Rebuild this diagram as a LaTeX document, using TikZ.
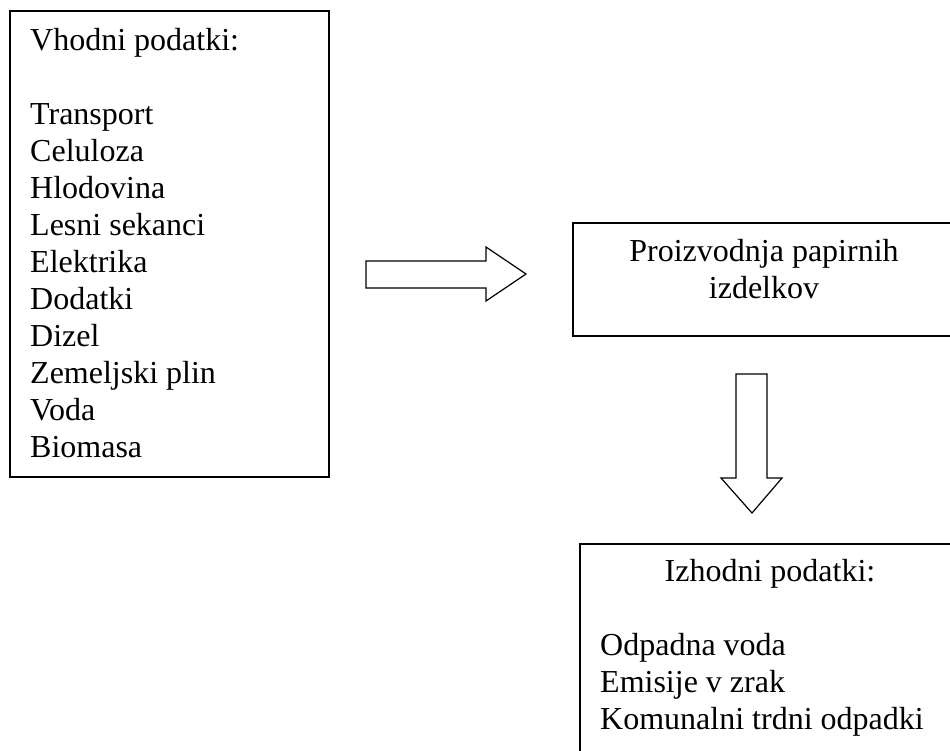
\documentclass[tikz,border=0pt]{standalone}
\usepackage{fontspec}
\setmainfont{Liberation Serif}

\tikzset{
    box/.style={draw, line width=1.6pt, inner sep=0pt, anchor=north west},
    txt/.style={inner sep=0pt, font=\fontsize{32}{37}\selectfont},
    blockarrow/.style={draw, line width=1.2pt, line join=miter}
}

\begin{document}
\begin{tikzpicture}[x=1pt, y=-1pt]
    \useasboundingbox (0,0) rectangle (950,751);
    \clip (0,0) rectangle (950,751);

    \node[box, minimum width=319pt, minimum height=466pt] (inbox) at (9,10) {};
    \node[box, minimum width=384pt, minimum height=113pt] (procbox) at (572,222) {};
    \node[box, minimum width=382pt, minimum height=240pt] (outbox) at (579,543) {};

    \node[txt, align=left, anchor=north west] (intext) at (30,24.1)
        {\strut Vhodni podatki:\\[37pt]Transport\\Celuloza\\Hlodovina\\Lesni sekanci\\Elektrika\\Dodatki\\Dizel\\Zemeljski plin\\Voda\\Biomasa};
    \node[txt, align=center, anchor=north] (proctext) at (764,235.1)
        {\strut Proizvodnja papirnih\\izdelkov};
    \node[txt, anchor=north] (outhead) at (770,555.1) {\strut Izhodni podatki:};
    \node[txt, align=left, anchor=north west] (outtext) at (600,629.1)
        {\strut Odpadna voda\\Emisije v zrak\\Komunalni trdni odpadki};

    \draw[blockarrow] (366,261) -- (486,261) -- (486,247) -- (526,274) -- (486,301) -- (486,288) -- (366,288) -- cycle;
    \draw[blockarrow] (736,374) -- (767,374) -- (767,478) -- (782,478) -- (752,513) -- (721,478) -- (736,478) -- cycle;
\end{tikzpicture}
\end{document}
